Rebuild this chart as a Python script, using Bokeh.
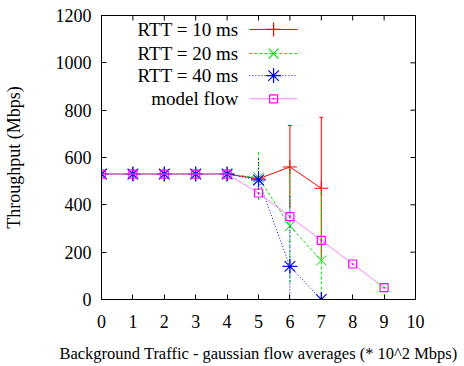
from bokeh.plotting import figure
from bokeh.models import Range1d, FixedTicker
from bokeh.core.properties import value
from bokeh.embed import file_html
from bokeh.resources import INLINE

# ---- data ----
x = [0, 1, 2, 3, 4, 5, 6, 7]
rtt10 = [530, 530, 530, 530, 530, 510, 560, 470]
rtt20 = [530, 530, 530, 530, 530, 515, 310, 165]
rtt40 = [530, 530, 530, 530, 530, 505, 140, 0]

err_x = [5, 6, 7]
rtt10_lo = [500, 385, 170]
rtt10_hi = [520, 735, 770]
rtt20_lo = [420, 70, 0]
rtt20_hi = [625, 560, 470]
rtt40_lo = [450, 0, 0]
rtt40_hi = [600, 440, 0]

model_x = [0, 1, 2, 3, 4, 5, 6, 7, 8, 9]
model = [530, 530, 530, 530, 530, 450, 350, 250, 150, 50]

labels = ["RTT = 10 ms", "RTT = 20 ms", "RTT = 40 ms", "model flow"]
x_ticks = [0, 1, 2, 3, 4, 5, 6, 7, 8, 9, 10]
y_ticks = [0, 200, 400, 600, 800, 1000, 1200]

FONT = "Liberation Serif"
X0, X1, Y0, Y1 = 0, 10, 0, 1200

p = figure(width=462, height=365, output_backend="svg", toolbar_location=None,
           x_range=Range1d(X0, X1), y_range=Range1d(Y0, Y1),
           min_border_left=101, min_border_right=47, min_border_top=15,
           min_border_bottom=66)
p.background_fill_color = "white"
p.border_fill_color = "white"
p.outline_line_color = "black"
p.outline_line_width = 1
p.grid.visible = False

for ax in (p.xaxis[0], p.yaxis[0]):
    ax.major_tick_in = 5
    ax.major_tick_out = 0
    ax.minor_tick_in = 0
    ax.minor_tick_out = 0
    ax.major_label_text_font = FONT
    ax.major_label_text_font_size = "18px"
    ax.major_label_text_color = "black"
    ax.axis_label_text_font = FONT
    ax.axis_label_text_font_style = "normal"
    ax.axis_label_text_color = "black"
    ax.axis_line_color = "black"
    ax.major_tick_line_color = "black"

p.xaxis[0].ticker = FixedTicker(ticks=x_ticks)
p.yaxis[0].ticker = FixedTicker(ticks=y_ticks)
p.xaxis[0].axis_label = "Background Traffic - gaussian flow averages (* 10^2 Mbps)"
p.xaxis[0].axis_label_text_font_size = "16.5px"
p.xaxis[0].major_label_standoff = 15
p.xaxis[0].axis_label_standoff = 13
p.yaxis[0].axis_label = "Throughput (Mbps)"
p.yaxis[0].axis_label_text_font_size = "18px"
p.yaxis[0].major_label_standoff = 10
p.yaxis[0].axis_label_standoff = 29

# mirrored ticks on top and right edges (5 px long, inside)
tick_dy = 5 * (Y1 - Y0) / 283.0
tick_dx = 5 * (X1 - X0) / 314.0
p.segment(x_ticks, [Y1] * len(x_ticks), x_ticks, [Y1 - tick_dy] * len(x_ticks),
          line_color="black", line_width=1)
p.segment([X1] * len(y_ticks), y_ticks, [X1 - tick_dx] * len(y_ticks), y_ticks,
          line_color="black", line_width=1)

RED, GREEN, BLUE, MAG, PINK = "#ff0000", "#00e000", "#0000ff", "#ff00ff", "#ff80ff"

# RTT 10
p.line(x, rtt10, line_color=RED, line_width=1)
p.segment(err_x, rtt10_lo, err_x, rtt10_hi, line_color=RED, line_width=1)
p.scatter(err_x, rtt10_hi, marker="dash", size=4, line_color=RED)
p.scatter(x, rtt10, marker="cross", size=14, line_color=RED, line_width=1)

# RTT 20
p.line(x, rtt20, line_color=GREEN, line_width=1, line_dash="3 2")
p.segment(err_x, rtt20_lo, err_x, rtt20_hi, line_color=GREEN, line_width=1, line_dash="3 2")
p.scatter(x, rtt20, marker="x", size=14, line_color=GREEN, line_width=1)

# RTT 40
p.line(x, rtt40, line_color=BLUE, line_width=1, line_dash="1 2")
p.segment(err_x, rtt40_lo, err_x, rtt40_hi, line_color=BLUE, line_width=1, line_dash="1 2")
p.scatter(x, rtt40, marker="asterisk", size=15, line_color=BLUE, line_width=1.2)

# model flow
p.line(model_x, model, line_color=PINK, line_width=1)
p.scatter(model_x, model, marker="square_dot", size=8, line_color=MAG, fill_color=None,
          line_width=1.2)

# ---- legend (gnuplot style: text then sample) ----
leg_text_x = 4.36
leg_x0, leg_x1, leg_mx = 4.71, 6.24, 5.48
leg_y = [1141, 1039, 946, 848]
p.text([leg_text_x] * 4, leg_y, text=labels, text_align="right", text_baseline="middle",
       text_font=value(FONT), text_font_size="19px", text_color="black")
styles = [
    dict(color=RED, dash="solid", marker="cross", size=14),
    dict(color=GREEN, dash="3 2", marker="x", size=14),
    dict(color=BLUE, dash="1 2", marker="asterisk", size=15),
    dict(color=PINK, dash="solid", marker="square_dot", size=8),
]
for yy, st in zip(leg_y, styles):
    p.segment([leg_x0], [yy], [leg_x1], [yy], line_color=st["color"], line_width=1,
              line_dash=st["dash"])
    p.scatter([leg_mx], [yy], marker=st["marker"], size=st["size"],
              line_color=MAG if st["marker"] == "square_dot" else st["color"],
              fill_color=None, line_width=1.2)

open("out.html", "w").write(file_html(p, INLINE))
